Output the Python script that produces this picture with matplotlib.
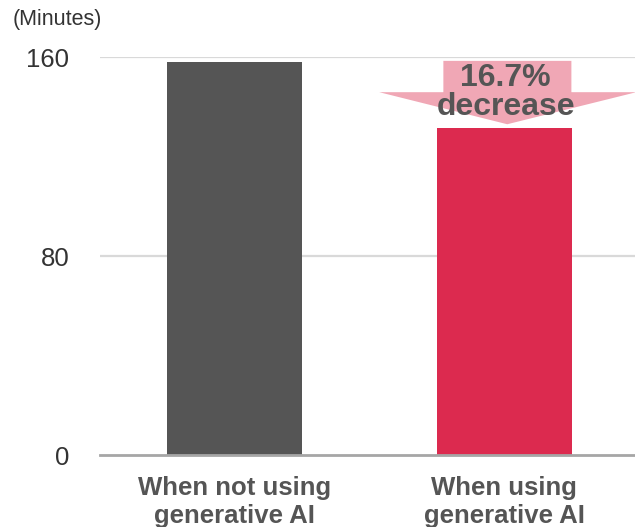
import matplotlib.pyplot as plt
from matplotlib.patches import Polygon

plt.rcParams['font.family'] = ['Liberation Sans', 'DejaVu Sans']

# average time (minutes)
categories = ['When not using\ngenerative AI', 'When using\ngenerative AI']
minutes = [158, 131.6]
bar_colors = ['#555555', '#DC2A4F']
yticks = [0, 80, 160]
change_label = '16.7%\ndecrease'

fig = plt.figure(figsize=(6.35, 5.27), dpi=100)
ax = fig.add_axes([0.1575, 0.1366, 0.8425, 0.7545])

x = list(range(len(categories)))
ax.bar(x, minutes, width=0.5, color=bar_colors, zorder=3)

ax.set_xlim(-0.5, 1.485)
ax.set_ylim(0, 160)
ax.set_yticks(yticks)
ax.set_yticklabels([str(t) for t in yticks], fontsize=18.5, color='#333333')
ax.set_xticks(x)
ax.set_xticklabels(categories, fontsize=18.5, fontweight='bold', color='#555555',
                   linespacing=1.2)
ax.tick_params(axis='y', length=0, pad=22)
ax.tick_params(axis='x', length=0, pad=15)

for t in yticks[1:]:
    ax.axhline(t, color='#D9D9D9', lw=1.6, zorder=1)
for s in ['top', 'right', 'left']:
    ax.spines[s].set_visible(False)
ax.spines['bottom'].set_color('#A6A6A6')
ax.spines['bottom'].set_linewidth(2)
ax.spines['bottom'].set_zorder(4)

# downward arrow over the second bar
tip = minutes[1] + 1.5
head_top = minutes[0] - 12
shaft_top = minutes[0] + 0.6
cx = x[1]
arrow = Polygon([(cx - 0.226, shaft_top), (cx + 0.249, shaft_top),
                 (cx + 0.249, head_top), (cx + 0.49, head_top),
                 (cx + 0.011, tip), (cx - 0.464, head_top),
                 (cx - 0.226, head_top)],
                closed=True, facecolor='#F0A7B5', edgecolor='none',
                zorder=4, clip_on=False)
ax.add_patch(arrow)
ax.text(cx + 0.005, 146, change_label, ha='center', va='center', fontsize=23,
        fontweight='bold', color='#555555', linespacing=0.95, zorder=5)

fig.text(13 / 635, 1 - 19 / 527, '(Minutes)', ha='left', va='center',
         fontsize=15.5, color='#333333')

fig.savefig('out.png', dpi=100)
